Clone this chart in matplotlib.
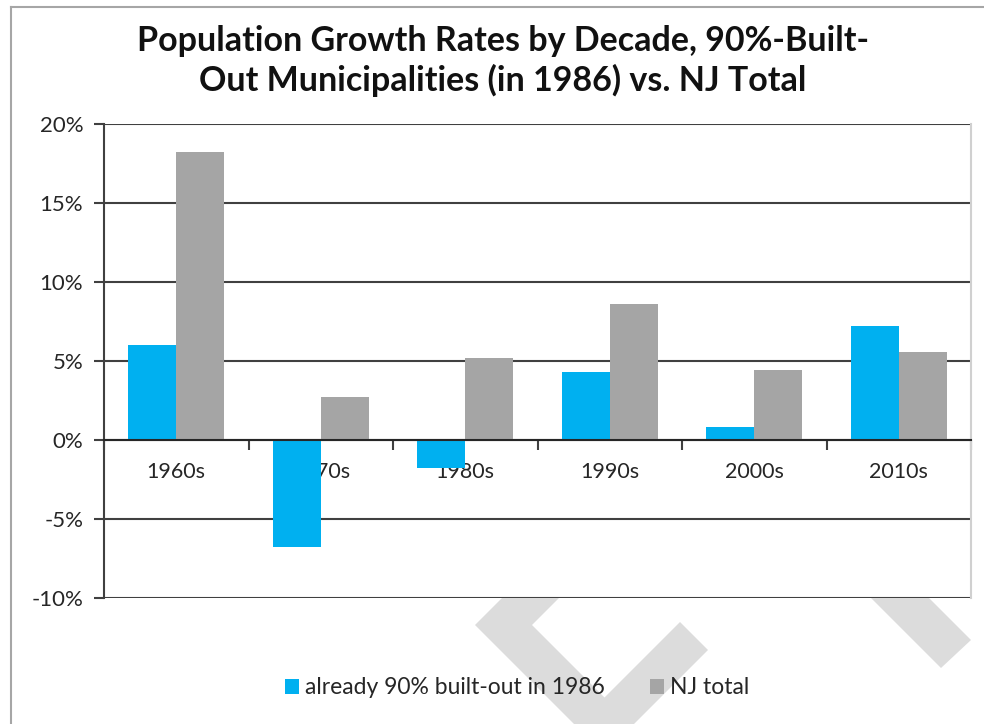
import numpy as np
import matplotlib
matplotlib.use("Agg")
import matplotlib.pyplot as plt
from matplotlib.patches import Polygon
from matplotlib.lines import Line2D

plt.rcParams['font.family'] = ['Lato', 'DejaVu Sans']

decades = ["1960s", "1970s", "1980s", "1990s", "2000s", "2010s"]
built_out = [6.0, -6.8, -1.8, 4.3, 0.8, 7.2]
nj_total = [18.2, 2.7, 5.2, 8.6, 4.4, 5.6]
y_ticks = [-10, -5, 0, 5, 10, 15, 20]
y_labels = ["-10%", "-5%", "0%", "5%", "10%", "15%", "20%"]

W, H = 984, 724
fig = plt.figure(figsize=(W / 100, H / 100), dpi=100)


def px(x, y):
    # pixel coords (from top-left) to figure fraction
    return (x / W, 1 - y / H)


# watermark strokes behind the chart
wm = [
    [(560, 540), (475, 625), (574, 724), (631, 724), (532, 625), (590, 567)],
    [(680, 622), (708, 650), (634, 724), (578, 724)],
    [(887, 556), (971, 640), (941, 668), (829, 556)],
]
for pts in wm:
    fig.patches.append(Polygon([px(*p) for p in pts], closed=True,
                               transform=fig.transFigure, facecolor='#dcdcdc',
                               edgecolor='none', zorder=0))

# outer chart border (top and left only visible)
fig.add_artist(Line2D([px(11, 0)[0], 1], [px(0, 7)[1]] * 2, color='#a6a6a6', lw=1.5))
fig.add_artist(Line2D([px(11, 0)[0]] * 2, [0, px(0, 7)[1]], color='#a6a6a6', lw=1.5))

ax = fig.add_axes([104 / W, 1 - 598 / H, (971 - 104) / W, (598 - 124) / H])
ax.set_zorder(1)
ax.set_facecolor('white')
ax.set_axisbelow(True)

x = np.arange(len(decades))
w = 1 / 3
ax.bar(x - w / 2, built_out, w, color='#00b0f0', label='already 90% built-out in 1986')
ax.bar(x + w / 2, nj_total, w, color='#a5a5a5', label='NJ total')

ax.set_xlim(-0.5, len(decades) - 0.5)
ax.set_ylim(-10, 20)
ax.set_yticks(y_ticks)
ax.set_yticklabels(y_labels)
ax.yaxis.grid(True, color='#404040', lw=1.5)

ax.set_xticks(np.arange(len(decades) + 1) - 0.5)
ax.set_xticklabels([])
ax.set_xticks(x, minor=True)
ax.set_xticklabels(decades, minor=True)
ax.tick_params(axis='x', which='major', direction='out', length=7, width=1.5, color='#404040')
ax.tick_params(axis='x', which='minor', length=0, pad=16, labelsize=15.5, labelcolor='#262626')
ax.tick_params(axis='y', direction='out', length=7, width=1.5, color='#404040',
               pad=8, labelsize=16, labelcolor='#262626')

ax.spines['bottom'].set_position(('data', 0))
ax.spines['bottom'].set_color('#262626')
ax.spines['bottom'].set_linewidth(1.5)
ax.spines['left'].set_color('#404040')
ax.spines['left'].set_linewidth(1.5)
ax.spines['top'].set_visible(False)
ax.spines['right'].set_color('#d0d0d0')
ax.spines['right'].set_linewidth(1.5)

fig.text(503 / W, 1 - 61 / H,
         "Population Growth Rates by Decade, 90%-Built-\nOut Municipalities (in 1986) vs. NJ Total",
         ha='center', va='center', fontsize=24.5, fontweight='bold', linespacing=1.25,
         color='#111111')

fig.legend(loc='center', bbox_to_anchor=(517 / W, 1 - 688 / H), ncol=2, frameon=False,
           fontsize=16.5, handlelength=0.62, handleheight=0.62, handletextpad=0.25,
           columnspacing=2.0, labelcolor='#262626')

fig.savefig("out.png", dpi=100)
